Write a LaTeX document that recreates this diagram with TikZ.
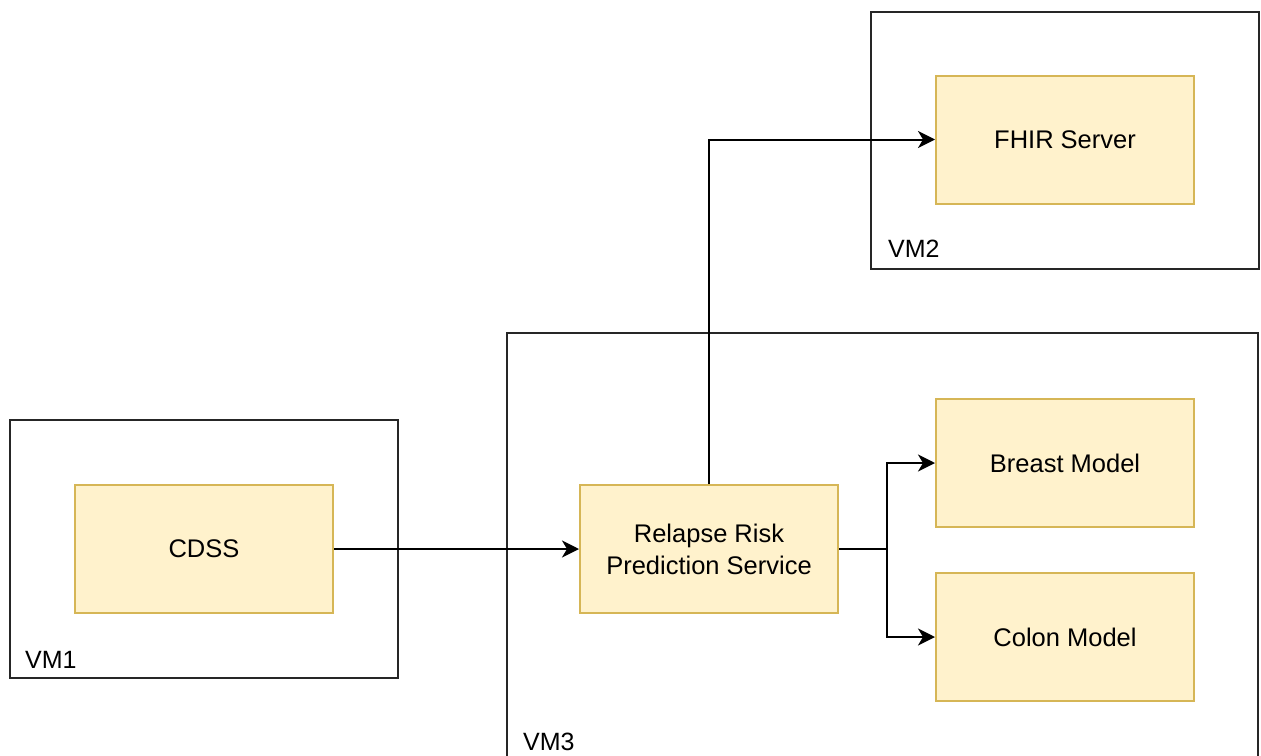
\documentclass[tikz,border=0pt]{standalone}
\usepackage{fontspec}
\setmainfont{Liberation Sans}
\usetikzlibrary{positioning,arrows.meta}
\definecolor{svcfill}{HTML}{FFF2CC}
\definecolor{svcdraw}{HTML}{D6B656}

\begin{document}
\begin{tikzpicture}[x=1pt, y=-1pt,
                    svcnode/.style={rectangle, draw=svcdraw, fill=svcfill, line width=2pt, minimum width=258pt, minimum height=128pt, inner sep=0pt, align=center, font=\fontsize{25.5}{32}\selectfont},
                    vmnode/.style={rectangle, draw=black!85, line width=2pt, inner sep=0pt},
                    vmlabel/.style={anchor=base west, inner sep=0pt, font=\fontsize{25}{30}\selectfont},
                    link/.style={line width=2pt, -{Stealth[length=17pt, width=17pt, inset=5pt]}},
                ]
                    \useasboundingbox (0,0) rectangle (1261,755);
                    \clip (0,0) rectangle (1261,755);

                    %VM boxes
                    \node[vmnode, minimum width=388pt, minimum height=258pt](vm1) at (204,549) {};
                    \node[vmnode, minimum width=388pt, minimum height=257pt](vm2) at (1065,140.5) {};
                    \node[vmnode, minimum width=751pt, minimum height=457pt](vm3) at (882.5,561.5) {};
                    \node[vmlabel](vm1lbl) at (25,668) {VM1};
                    \node[vmlabel](vm2lbl) at (888,257) {VM2};
                    \node[vmlabel](vm3lbl) at (523,750) {VM3};

                    %Nodes
                    \node[svcnode](cdss) at (204,549) {CDSS};
                    \node[svcnode](relapse)[right=245pt of cdss] {Relapse Risk\\Prediction Service};
                    \node[svcnode](fhir) at (1065,139.5) {FHIR Server};
                    \node[svcnode](breast) at (1065,463) {Breast Model};
                    \node[svcnode](colon)[below=44pt of breast] {Colon Model};
                    \coordinate (fork) at (887,549);

                    %Lines
                    \draw[link](cdss.east) -- (relapse.west);
                    \draw[link](relapse.north) |- (fhir.west);
                    \draw[line width=2pt](relapse.east) -- (fork);
                    \draw[link](fork) |- (breast.west);
                    \draw[link](fork) |- (colon.west);
                \end{tikzpicture}
\end{document}
